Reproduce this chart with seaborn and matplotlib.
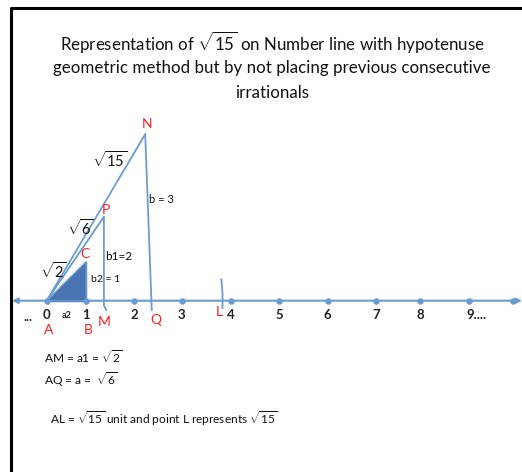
import numpy as np
import pandas as pd
import matplotlib
matplotlib.use("Agg")
import matplotlib.pyplot as plt
import seaborn as sns

sns.set_theme(style="white")
plt.rcParams['font.family'] = ['Lato', 'DejaVu Sans']
plt.rcParams['mathtext.fontset'] = 'custom'
plt.rcParams['mathtext.rm'] = 'Lato'
plt.rcParams['mathtext.it'] = 'Lato:italic'
plt.rcParams['mathtext.bf'] = 'Lato:bold'

# number line ticks (hand drawn in the picture, so spacing is not even), unit = one step
tick_labels = ['0', '1', '2', '3', '4', '5', '6', '7', '8', '9....', '']
tick_x = [0, 0.84, 1.86, 2.88, 3.92, 4.95, 5.99, 7.02, 7.96, 9.0, 9.94]

# construction points (x, height above the line)
A = (0.0, 0.0)
B = (0.84, 0.0)
C = (0.84, 0.83)
M = (1.22, 0.0)
P = (1.22, 1.79)
N = (2.10, 3.55)
Q = (2.24, -0.20)
AL = 3.75          # radius of the arc that marks L

LINE = '#6b9bd2'
FILL = '#4a73b1'
RED = '#ff2020'
INK = '#111111'

# pixel -> data helper for placing text (46.9 px per unit, zero at 46.7,300.7)
def px(xp, yp):
    return ((xp - 46.7) / 46.9, (300.7 - yp) / 46.9)

fig = plt.figure(figsize=(5.22, 4.72), dpi=100)
ax = fig.add_axes([0, 0, 1, 1])
x0, y0 = px(0, 472)
x1, y1 = px(522, 0)
ax.set_xlim(x0, x1)
ax.set_ylim(y0, y1)
ax.axis('off')

# frame (top and left only, rest is cropped)
fx0, fy0 = px(10.5, 472)
fx1, fy1 = px(522, 7.5)
ax.plot([fx0, fx0, fx1], [fy0, fy1, fy1], color='black', lw=2.2, solid_capstyle='butt')

# title
tx = px(272, 0)[0]
ax.text(tx, px(0, 43)[1], r'Representation of $\sqrt{15}$ on Number line with hypotenuse',
        ha='center', va='center', fontsize=12.2, color=INK)
ax.text(tx, px(0, 68)[1], 'geometric method but by not placing previous consecutive',
        ha='center', va='center', fontsize=12.2, color=INK)
ax.text(tx, px(0, 93)[1], 'irrationals', ha='center', va='center', fontsize=12.2, color=INK)

# number line with arrows
ax.annotate('', xy=(px(522, 0)[0], 0), xytext=(px(12, 0)[0], 0),
            arrowprops=dict(arrowstyle='<|-|>', color=LINE, lw=1.5,
                            mutation_scale=8, shrinkA=0, shrinkB=0))
ticks = pd.DataFrame({'x': tick_x, 'y': np.zeros(len(tick_x))})
sns.scatterplot(data=ticks, x='x', y='y', ax=ax, color=LINE, s=18,
                edgecolor=LINE, zorder=4, legend=False)
for lab, xv in zip(tick_labels, tick_x):
    if lab.startswith('9'):
        ax.text(xv - 0.05, px(0, 315)[1], lab, ha='left', va='center',
                fontsize=9.5, fontweight='bold', color='#222222')
    elif lab:
        ax.text(xv, px(0, 315)[1], lab, ha='center', va='center',
                fontsize=9.5, fontweight='bold', color='#222222')
ax.text(px(28, 0)[0], px(0, 317)[1], '...', ha='center', va='center',
        fontsize=9, fontweight='bold', color='#222222')
ax.text(px(66.5, 0)[0], px(0, 316)[1], 'a2', ha='center', va='center',
        fontsize=6.5, fontweight='bold', color='#222222')

# triangle ABC
ax.fill([A[0], B[0], C[0]], [A[1], B[1], C[1]], color=FILL, zorder=3)
ax.plot([A[0], B[0], C[0], A[0]], [A[1], B[1], C[1], A[1]], color=LINE, lw=1, zorder=3)

# hypotenuses and perpendiculars
ax.plot([A[0], P[0]], [A[1], P[1]], color=LINE, lw=1.3)
ax.plot([A[0], N[0]], [A[1], N[1]], color=LINE, lw=1.3)
ax.plot([P[0], M[0], M[0] + 0.05], [P[1], -0.1, -0.2], color=LINE, lw=1.3)
ax.plot([N[0], Q[0]], [N[1], Q[1]], color=LINE, lw=1.3)

# arc marking L
ang = np.radians(np.linspace(-2.5, 7, 20))
ax.plot(AL * np.cos(ang), AL * np.sin(ang), color=LINE, lw=1.3)

# point labels
for name, (xp, yp) in {'N': (146.7, 124), 'P': (106, 209.5), 'C': (85, 253.5),
                       'A': (48.7, 330), 'B': (88, 330), 'M': (104.3, 321.5),
                       'Q': (156, 319.5), 'L': (219, 311.5)}.items():
    ax.text(*px(xp, yp), name, ha='center', va='center', fontsize=10, color=RED)

# side labels
ax.text(*px(110, 160), r'$\sqrt{15}$', ha='center', va='center', fontsize=10.5, color=INK)
ax.text(*px(80, 228), r'$\sqrt{6}$', ha='center', va='center', fontsize=10.5, color=INK)
ax.text(*px(53.5, 271), r'$\sqrt{2}$', ha='center', va='center', fontsize=10.5, color=INK)
ax.text(*px(149, 199.5), 'b = 3', ha='left', va='center', fontsize=8, color=INK)
ax.text(*px(105, 256), 'b1=2', ha='left', va='center', fontsize=8.5, color=INK)
ax.text(*px(91, 279.5), 'b2 = 1', ha='left', va='center', fontsize=7.5, color=INK)

# notes under the line
ax.text(*px(43.5, 357), r'AM = a1 = $\sqrt{2}$', ha='left', va='center', fontsize=8.6, color=INK)
ax.text(*px(43.5, 379.5), r'AQ = a =  $\sqrt{6}$', ha='left', va='center', fontsize=8.6, color=INK)
ax.text(*px(50, 418.5), r'AL = $\sqrt{15}$ unit and point L represents $\sqrt{15}$',
        ha='left', va='center', fontsize=8.6, color=INK)

fig.savefig('out.png', dpi=100, facecolor='white')
